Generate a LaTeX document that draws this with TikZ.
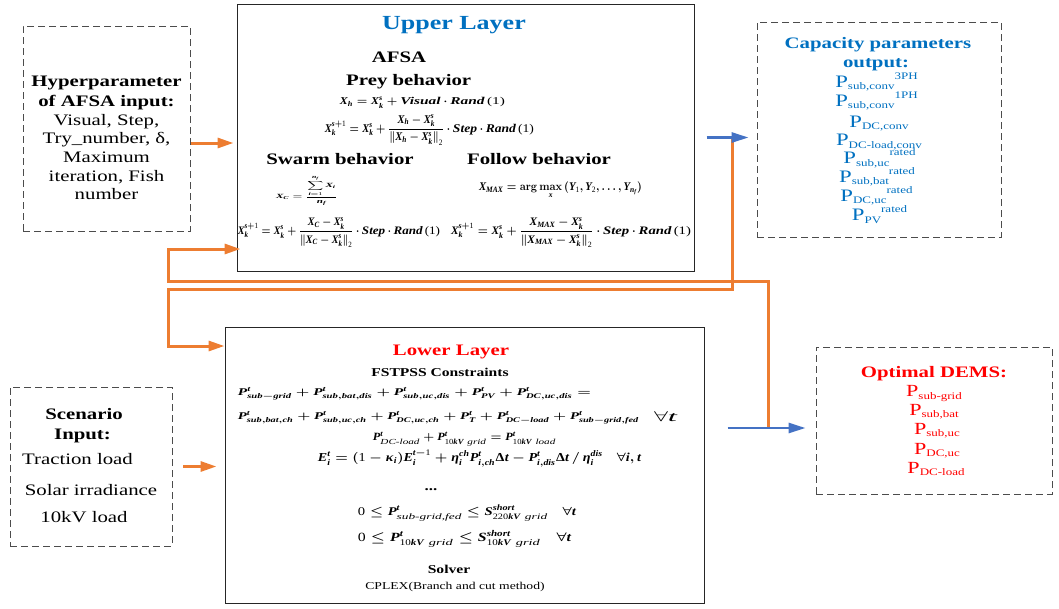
\documentclass[tikz,border=0pt]{standalone}
\usepackage{amsmath}
\usepackage{mathspec}
\setmainfont{Liberation Serif}[FakeStretch=1.3]
\setmathsfont(Digits){Liberation Serif}
\setmathsfont(Latin,Greek)[ItalicFont=Liberation Serif Bold Italic]{Liberation Serif Bold}
\usepackage{graphicx}
\usetikzlibrary{arrows.meta}

\definecolor{ublue}{HTML}{0070C0}
\definecolor{lred}{HTML}{FF0000}
\definecolor{flow}{HTML}{ED7D31}
\definecolor{outblue}{HTML}{4472C4}

\newcommand\fs[1]{\fontsize{#1}{#1}\selectfont}
% formula fitted into a given width and total height
\newcommand\fiteq[3]{\resizebox*{#1pt}{#2pt}{\boldmath$\displaystyle #3$}}
\newcommand\fitreg[3]{\resizebox*{#1pt}{#2pt}{$\displaystyle #3$}}
% bold italic word inside a formula
\newcommand\bw[1]{\textbf{\textit{#1}}}
% power quantity: P, a lowered index and a raised tag after it
\newcommand\Pterm[3]{{\fs{#1}P}{\fs{10}\raisebox{-2.5pt}{#2}\raisebox{8pt}{#3}}}

\tikzset{
  layerbox/.style={draw=black!85, line width=1pt, inner sep=0pt},
  dashbox/.style={draw=black!70, line width=0.9pt, dash pattern=on 7pt off 4pt, inner sep=0pt},
  lbl/.style={inner sep=0pt, anchor=base},
  eqn/.style={inner sep=0pt, anchor=center},
  flowline/.style={draw=flow, line width=3pt, -{Triangle[length=16pt,width=10pt]}},
  resultarrow/.style={draw=outblue, line width=2.8pt, -{Triangle[length=17pt,width=10pt]}},
}

\begin{document}
\begin{tikzpicture}[x=1pt,y=-1pt]
\useasboundingbox (0,0) rectangle (1059,608);

% ---------------- frames ----------------
\node[layerbox, minimum width=457pt, minimum height=267pt] (upper) at (465.5,137.5) {};
\node[layerbox, minimum width=479pt, minimum height=276pt] (lower) at (464.5,465) {};
\node[dashbox, minimum width=167pt, minimum height=205pt] (hyp) at (106.5,128.5) {};
\node[dashbox, minimum width=162pt, minimum height=159pt] (scen) at (91,466.5) {};
\node[dashbox, minimum width=244pt, minimum height=215pt] (cap) at (879,129.5) {};
\node[dashbox, minimum width=236pt, minimum height=147pt] (dems) at (934,420.5) {};

% ---------------- upper layer ----------------
\node[lbl, font=\fs{20}\bfseries, text=ublue] (t-upper) at (454,29.3) {Upper Layer};
\node[lbl, font=\fs{16}\bfseries] (t-afsa) at (399,62.7) {AFSA};
\node[lbl, font=\fs{16}\bfseries] (t-prey) at (408.7,85) {Prey behavior};
\node[lbl, font=\fs{16}\bfseries] (t-swarm) at (340,164.3) {Swarm behavior};
\node[lbl, font=\fs{16}\bfseries] (t-follow) at (539,164.3) {Follow behavior};

\node[eqn] (eq-prey1) at (422.5,102.5)
  {\fiteq{165}{11}{X_h = X_k^s + \bw{Visual}\cdot \bw{Rand}\,\textnormal{(1)}}};
\node[eqn] (eq-prey2) at (429.5,130)
  {\fiteq{209}{30}{X_k^{s+1} = X_k^s + \frac{X_h - X_k^s}{\left\| X_h - X_k^s\right\|_2}\cdot \bw{Step}\cdot \bw{Rand}\,\textnormal{(1)}}};
\node[eqn] (eq-xc) at (306.5,190.5)
  {\fiteq{61}{29}{X_C = \frac{\displaystyle\sum\limits_{i=1}^{n_f} X_i}{n_f}}};
\node[eqn] (eq-xmax) at (560.5,190.5)
  {\fiteq{163}{17}{X_{MAX} = \arg\max_{x}\,(Y_1, Y_2, \ldots, Y_{n_f})}};
\node[eqn] (eq-swarm) at (339,232.5)
  {\fiteq{202}{29}{X_k^{s+1} = X_k^s + \frac{X_C - X_k^s}{\left\| X_C - X_k^s\right\|_2}\cdot \bw{Step}\cdot \bw{Rand}\,\textnormal{(1)}}};
\node[eqn] (eq-follow) at (571,232.5)
  {\fiteq{240}{29}{X_k^{s+1} = X_k^s + \frac{X_{MAX} - X_k^s}{\left\| X_{MAX} - X_k^s\right\|_2}\cdot \bw{Step}\cdot \bw{Rand}\,\textnormal{(1)}}};

% ---------------- lower layer ----------------
\node[lbl, font=\fs{16}\bfseries, text=lred] (t-lower) at (451,355) {Lower Layer};
\node[lbl, font=\fs{12}\bfseries] (t-fst) at (440,376.7) {FSTPSS Constraints};

\node[eqn] (eq-bal1) at (414.5,393.5)
  {\fiteq{353}{13}{P^t_{sub-grid} + P^t_{sub,bat,dis} + P^t_{sub,uc,dis} + P^t_{PV} + P^t_{DC,uc,dis} =}};
\node[eqn] (eq-bal2) at (438.5,417.5)
  {\fiteq{401}{13}{P^t_{sub,bat,ch} + P^t_{sub,uc,ch} + P^t_{DC,uc,ch} + P^t_{T} + P^t_{DC-load} + P^t_{sub-grid,fed}}};
\node[eqn] (eq-bal2-all) at (665.5,417) {\fitreg{23}{10}{\forall \textit{t}}};
\node[eqn] (eq-dc) at (464.5,439)
  {\fiteq{183}{14}{P^t_{\textit{DC-load}} + P^t_{10kV\ \textit{grid}} = P^t_{10kV\ \textit{load}}}};
\node[eqn] (eq-soc) at (479.5,458.5)
  {\fiteq{323}{17}{E_i^t = (1-\kappa_i)E_i^{t-1} + \eta_i^{ch}P^t_{i,ch}\Delta t - P^t_{i,dis}\Delta t \,/\, \eta_i^{dis} \quad \forall i,t}};
\node[lbl, font=\fs{13}\bfseries] (t-dots) at (431,490) {...};
\node[eqn] (eq-lim1) at (467,513)
  {\fiteq{218}{16}{0 \le P^t_{\textit{sub-grid,fed}} \le S^{short}_{220kV\ \textit{grid}} \quad \forall t}};
\node[eqn] (eq-lim2) at (464.5,538.5)
  {\fiteq{213}{17}{0 \le P^t_{10kV\ \textit{grid}} \le S^{short}_{10kV\ \textit{grid}} \quad \forall t}};
\node[lbl, font=\fs{12}\bfseries] (t-solver) at (449,573.3) {Solver};
\node[lbl, font=\fs{10.5}] (t-cplex) at (455,589.3) {CPLEX(Branch and cut method)};

% ---------------- hyperparameter input ----------------
\node[lbl, font=\fs{16}\bfseries] (h1) at (106.5,86.7) {Hyperparameter};
\node[lbl, font=\fs{16}\bfseries] (h2) at (106.5,106) {of AFSA input:};
\node[lbl, font=\fs{16}] (h3) at (106.5,125) {Visual, Step,};
\node[lbl, font=\fs{16}] (h4) at (106.5,143) {Try\_number, δ,};
\node[lbl, font=\fs{16}] (h5) at (106.5,162) {Maximum};
\node[lbl, font=\fs{16}] (h6) at (106.5,181) {iteration, Fish};
\node[lbl, font=\fs{16}] (h7) at (106.5,199) {number};

% ---------------- scenario input ----------------
\node[lbl, font=\fs{16}\bfseries] (s1) at (84,419.3) {Scenario};
\node[lbl, font=\fs{16}\bfseries] (s2) at (82.5,439.3) {Input:};
\node[lbl, font=\fs{16}] (s3) at (77.5,464) {Traction load};
\node[lbl, font=\fs{16}] (s4) at (91,495) {Solar irradiance};
\node[lbl, font=\fs{16}] (s5) at (84,522.7) {10kV load};

% ---------------- capacity output ----------------
\node[lbl, font=\fs{16}\bfseries, text=ublue] (c0a) at (878,48.5) {Capacity parameters};
\node[lbl, font=\fs{16}\bfseries, text=ublue] (c0b) at (876,67) {output:};
\begin{scope}[every node/.style={lbl, text=ublue}]
\node (c1) at (876.5,87)  {\Pterm{17.5}{sub,conv}{3PH}};
\node (c2) at (876.5,106) {\Pterm{17.5}{sub,conv}{1PH}};
\node (c3) at (879,127)   {\Pterm{17.5}{DC,conv}{}};
\node (c4) at (879,145.5) {\Pterm{17.5}{DC-load,conv}{}};
\node (c5) at (879.5,163.5) {\Pterm{17.5}{sub,uc}{rated}};
\node (c6) at (877,182)   {\Pterm{17.5}{sub,bat}{rated}};
\node (c7) at (876.5,201) {\Pterm{17.5}{DC,uc}{rated}};
\node (c8) at (879.5,220.5) {\Pterm{17.5}{PV}{rated}};
\end{scope}

% ---------------- optimal DEMS ----------------
\node[lbl, font=\fs{16}\bfseries, text=lred] (d0) at (934,377) {Optimal DEMS:};
\begin{scope}[every node/.style={lbl, text=lred}]
\node (d1) at (934,396.5) {\Pterm{17}{sub-grid}{}};
\node (d2) at (934,415)   {\Pterm{17}{sub,bat}{}};
\node (d3) at (937,434)   {\Pterm{17}{sub,uc}{}};
\node (d4) at (937,454)   {\Pterm{17}{DC,uc}{}};
\node (d5) at (936,473)   {\Pterm{17}{DC-load}{}};
\end{scope}

% ---------------- connectors ----------------
\coordinate (u-in) at ([yshift=-5.5pt]upper.west);
\coordinate (u-fb) at ([yshift=-111.5pt]upper.west);
\coordinate (l-in) at ([yshift=119pt]lower.west);
\coordinate (l-out) at ([yshift=37pt]lower.east);
\coordinate (tapA) at ([xshift=38pt]upper.east);
\coordinate (tapB) at ([xshift=64pt,yshift=37pt]lower.east);
\coordinate (bendA) at (168,289);
\coordinate (bendB) at (168,281);

% inputs
\draw[flowline, shorten <=1pt, shorten >=3pt] (hyp.east |- u-in) -- (u-in);
\draw[flowline, shorten <=11pt, shorten >=8pt] (scen.east) -- (lower.west |- scen.east);

% iteration loop between the layers
\draw[flowline] (tapA) |- (bendA) |- (l-in);
\draw[flowline, shorten >=-4pt] (tapB) |- (bendB) |- (u-fb);

% outputs
\draw[resultarrow, shorten <=12pt, shorten >=8pt] (upper.east) -- (cap.west |- upper.east);
\draw[resultarrow, shorten <=23pt, shorten >=10pt] (l-out) -- (dems.west |- l-out);
\end{tikzpicture}
\end{document}
